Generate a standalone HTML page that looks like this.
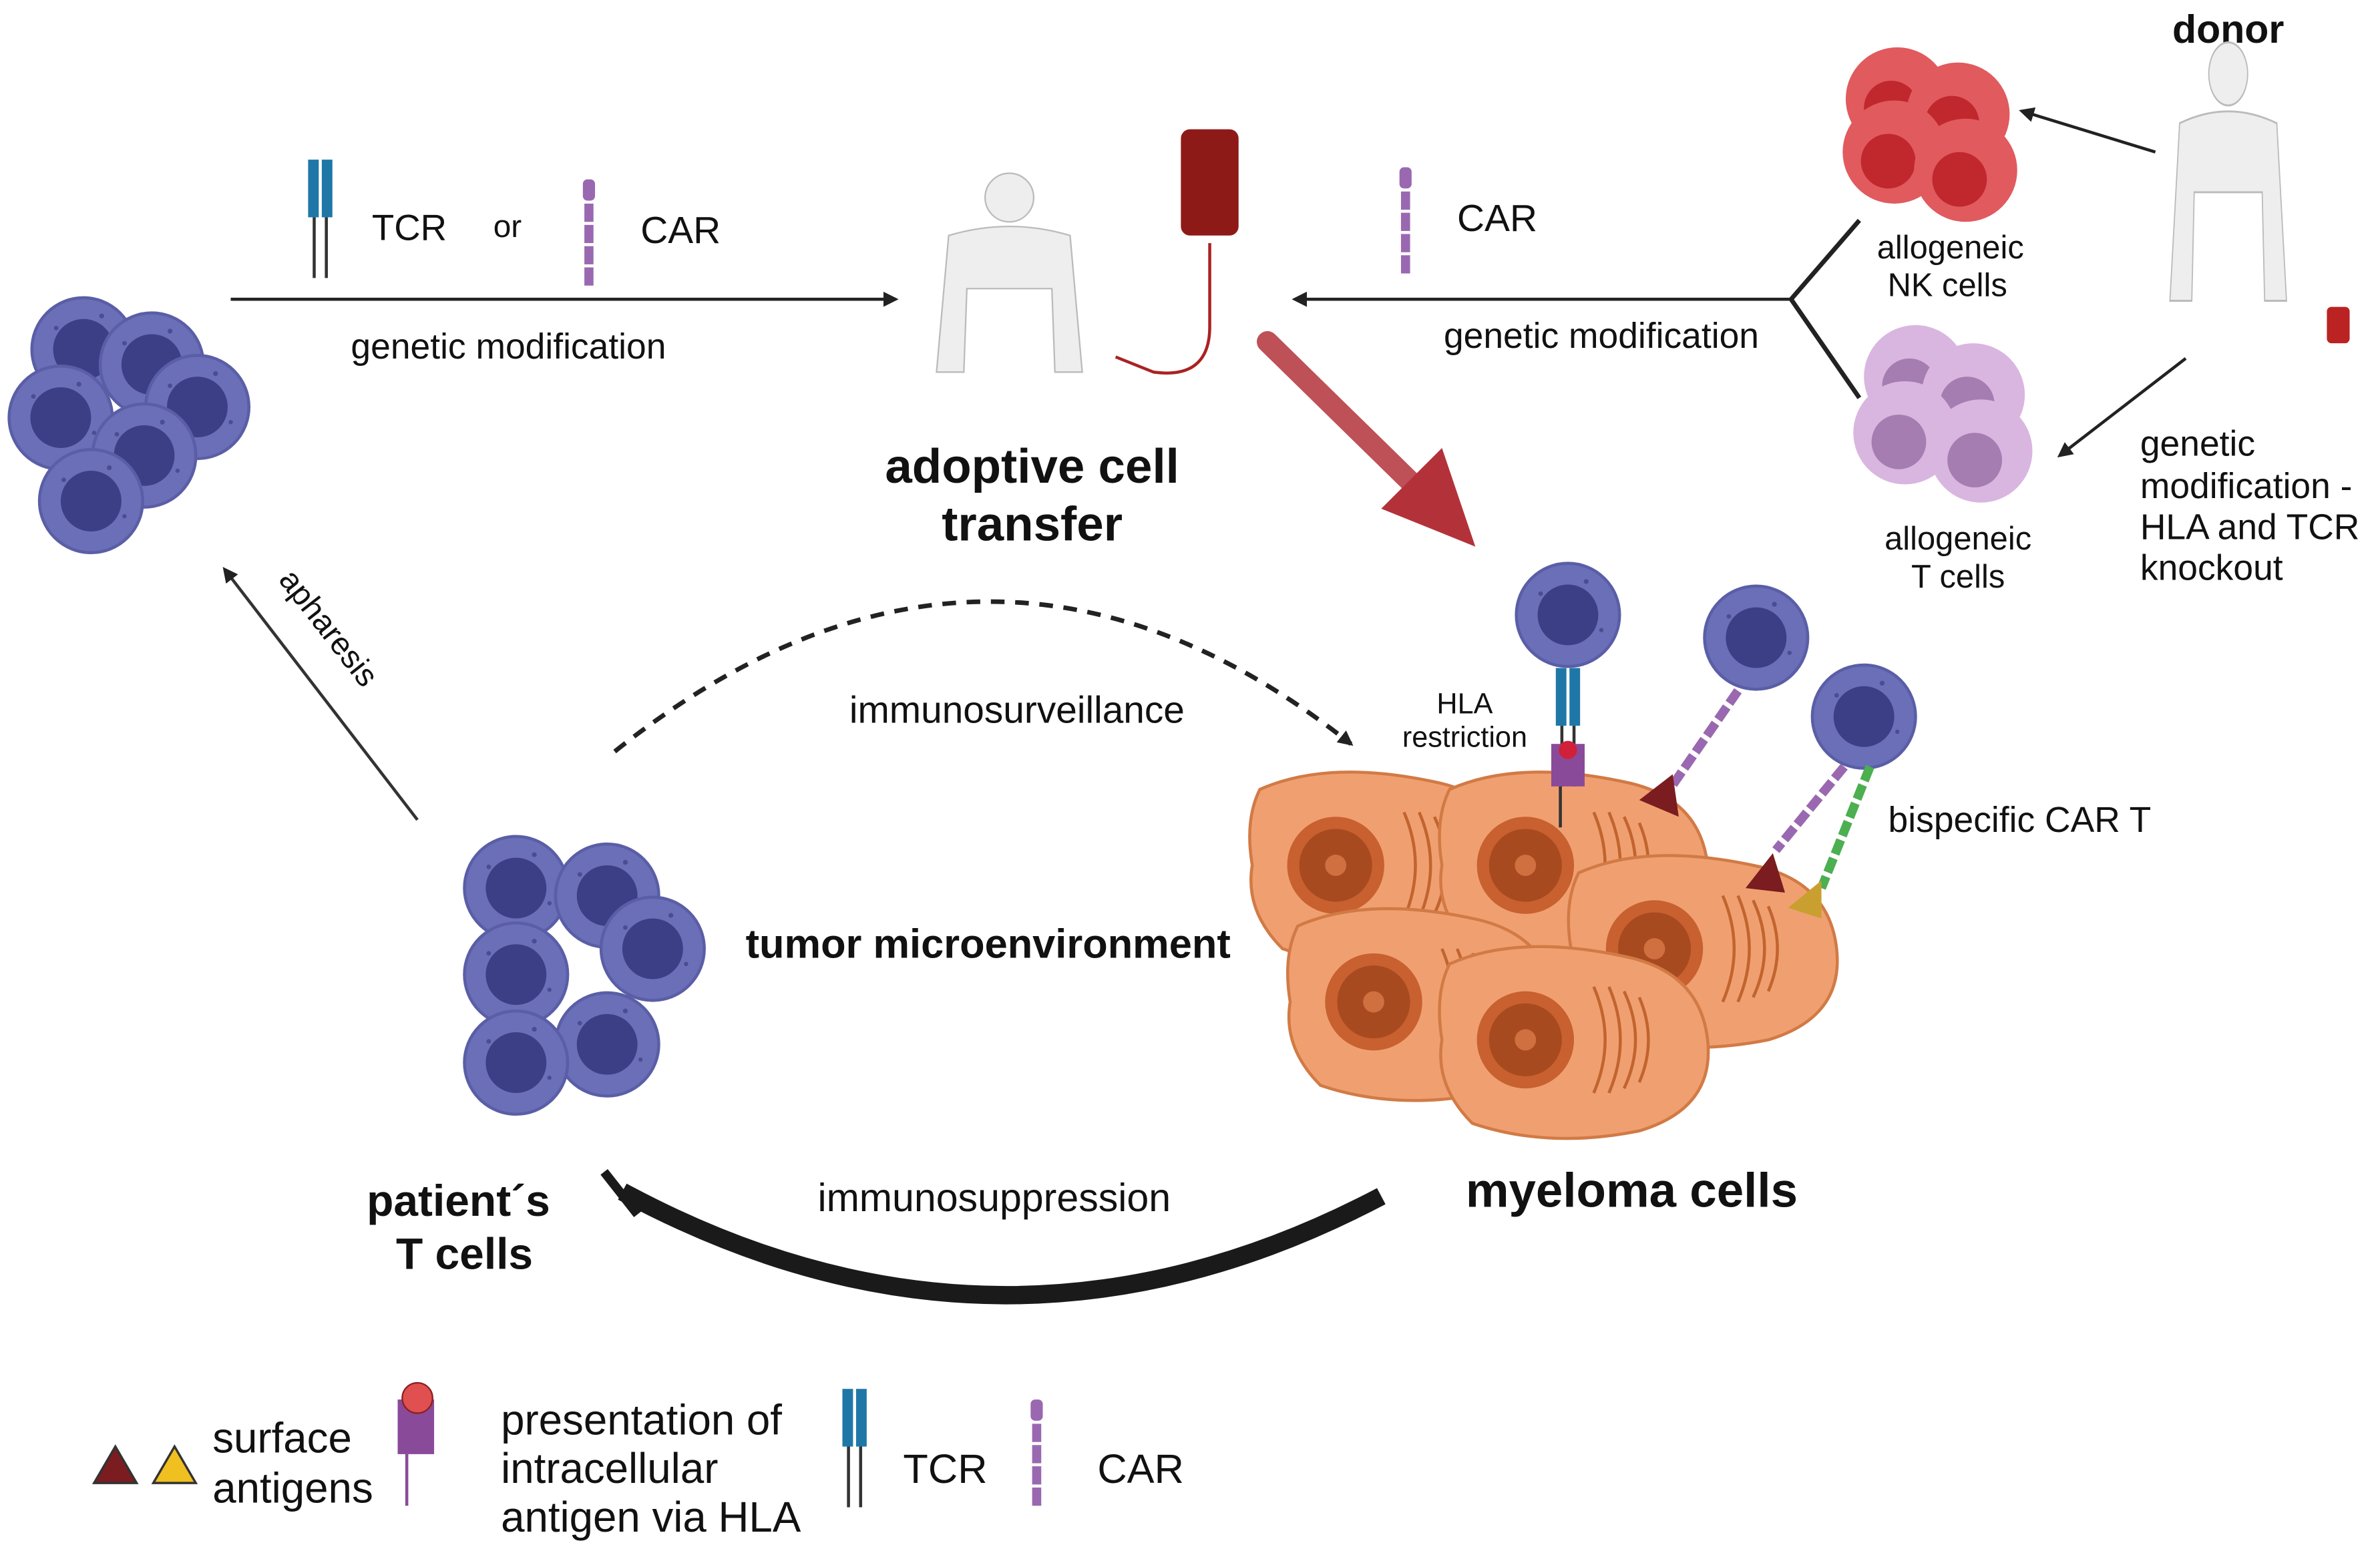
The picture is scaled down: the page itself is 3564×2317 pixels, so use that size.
<!DOCTYPE html>
<html><head><meta charset="utf-8"><style>
html,body{margin:0;padding:0;background:#fff;}
svg{display:block;}
text{font-family:"Liberation Sans",Arial,sans-serif;fill:#111;}
</style></head><body>
<svg width="3564" height="2317" viewBox="0 0 1568 1019" xmlns="http://www.w3.org/2000/svg">
<defs>
<marker id="ah" markerWidth="10" markerHeight="10" refX="8" refY="5" orient="auto" markerUnits="userSpaceOnUse"><path d="M0,0 L10,5 L0,10 z" fill="#222"/></marker>
<g id="bc"><circle r="34" fill="#6b6fb8" stroke="#5a5ea6" stroke-width="2"/><circle r="20" fill="#3c3f85"/><circle cx="12" cy="-22" r="1.6" fill="#4a4d90"/><circle cx="-18" cy="-14" r="1.5" fill="#4a4d90"/><circle cx="22" cy="10" r="1.4" fill="#4a4d90"/></g>
<g id="rc"><circle r="34" fill="#e05a5e"/><circle cx="-4" cy="6" r="18" fill="#c0282e"/></g>
<g id="pc"><circle r="34" fill="#d9b6e0"/><circle cx="-4" cy="6" r="18" fill="#a57db0"/></g>
<g id="mc"><path d="M-85,-50 Q-40,-70 30,-55 Q80,-45 85,0 Q90,45 40,60 Q-20,72 -70,55 Q-95,30 -90,0 Q-95,-30 -85,-50z" fill="#f0a070" stroke="#d27a45" stroke-width="2"/><circle cx="-35" cy="0" r="32" fill="#c8602f"/><circle cx="-35" cy="0" r="24" fill="#a84a20"/><circle cx="-35" cy="0" r="7" fill="#d07040"/><g stroke="#c2642f" stroke-width="2" fill="none"><path d="M10,-35 q15,35 0,70"/><path d="M20,-35 q15,35 0,70"/><path d="M30,-32 q15,32 0,64"/><path d="M40,-28 q12,28 0,56"/></g></g>
<g id="tcr"><rect x="-8" y="0" width="7" height="38" fill="#1f77a8"/><rect x="1" y="0" width="7" height="38" fill="#1f77a8"/><line x1="-4" y1="38" x2="-4" y2="78" stroke="#333" stroke-width="2"/><line x1="4" y1="38" x2="4" y2="78" stroke="#333" stroke-width="2"/></g>
<g id="car"><rect x="-4" y="0" width="8" height="14" rx="3" fill="#9a68b0"/><rect x="-3" y="16" width="6" height="12" fill="#9a68b0"/><rect x="-3" y="30" width="6" height="12" fill="#9a68b0"/><rect x="-3" y="44" width="6" height="12" fill="#9a68b0"/><rect x="-3" y="58" width="6" height="12" fill="#9a68b0"/></g>
<g id="hum"><circle cx="0" cy="-55" r="16" fill="#eee" stroke="#bbb"/><path d="M-40,-30 Q0,-42 40,-30 L48,60 L30,60 L28,5 L-28,5 L-30,60 L-48,60z" fill="#eee" stroke="#bbb"/></g>
</defs>

<use href="#bc" x="55" y="230"/><use href="#bc" x="100" y="240"/><use href="#bc" x="130" y="268"/><use href="#bc" x="40" y="275"/><use href="#bc" x="95" y="300"/><use href="#bc" x="60" y="330"/>

<line x1="152" y1="197" x2="590" y2="197" stroke="#222" stroke-width="2" marker-end="url(#ah)"/>
<text x="335" y="236" font-size="23.5" text-anchor="middle">genetic modification</text>
<use href="#tcr" x="211" y="105"/>
<text x="245" y="158" font-size="24">TCR</text>
<text x="325" y="156" font-size="21">or</text>
<use href="#car" x="388" y="118"/>
<text x="422" y="160" font-size="25">CAR</text>

<g transform="translate(665,185)"><use href="#hum"/></g>
<rect x="778" y="85" width="38" height="70" rx="6" fill="#8e1a18"/>
<path d="M797,160 L797,215 Q797,250 760,245 L735,235" stroke="#a22" stroke-width="2" fill="none"/>

<line x1="1180" y1="197" x2="853" y2="197" stroke="#222" stroke-width="2" marker-end="url(#ah)"/>
<line x1="1180" y1="197" x2="1225" y2="145" stroke="#222" stroke-width="3"/>
<line x1="1180" y1="197" x2="1225" y2="262" stroke="#222" stroke-width="3"/>
<text x="1055" y="229" font-size="23.5" text-anchor="middle">genetic modification</text>
<use href="#car" x="926" y="110"/>
<text x="960" y="152" font-size="25">CAR</text>

<use href="#rc" x="1250" y="65"/><use href="#rc" x="1290" y="75"/><use href="#rc" x="1248" y="100"/><use href="#rc" x="1295" y="112"/>
<text x="1285" y="170" font-size="21.5" text-anchor="middle">allogeneic</text>
<text x="1283" y="195" font-size="21.5" text-anchor="middle">NK cells</text>
<use href="#pc" x="1262" y="248"/><use href="#pc" x="1300" y="260"/><use href="#pc" x="1255" y="285"/><use href="#pc" x="1305" y="297"/>
<text x="1290" y="362" font-size="21.5" text-anchor="middle">allogeneic</text>
<text x="1290" y="387" font-size="21.5" text-anchor="middle">T cells</text>

<text x="1468" y="28" font-size="26" font-weight="bold" text-anchor="middle">donor</text>
<g transform="translate(1468,120) scale(0.8,1.3)"><use href="#hum"/></g>
<rect x="1533" y="202" width="15" height="24" rx="3" fill="#b22"/>
<line x1="1420" y1="100" x2="1332" y2="73" stroke="#222" stroke-width="2" marker-end="url(#ah)"/>
<line x1="1440" y1="236" x2="1357" y2="300" stroke="#222" stroke-width="2" marker-end="url(#ah)"/>
<text x="1410" y="300" font-size="23.5">genetic</text>
<text x="1410" y="328" font-size="23.5">modification -</text>
<text x="1410" y="355" font-size="23.5">HLA and TCR</text>
<text x="1410" y="382" font-size="23.5">knockout</text>

<text x="680" y="318" font-size="32" font-weight="bold" text-anchor="middle">adoptive cell</text>
<text x="680" y="356" font-size="32" font-weight="bold" text-anchor="middle">transfer</text>

<line x1="835" y1="225" x2="930" y2="318" stroke="#b3323a" stroke-width="14" stroke-linecap="round" opacity="0.85"/>
<path d="M972,360 L910,335 L950,295 z" fill="#b3323a"/>

<path d="M405,495 Q650,300 890,490" stroke="#222" stroke-width="3" stroke-dasharray="9,7" fill="none" marker-end="url(#ah)"/>
<text x="670" y="476" font-size="25" text-anchor="middle">immunosurveillance</text>

<line x1="275" y1="540" x2="148" y2="375" stroke="#333" stroke-width="2" marker-end="url(#ah)"/>
<text x="0" y="0" font-size="21" transform="translate(183,382) rotate(52)">apharesis</text>

<use href="#bc" x="340" y="585"/><use href="#bc" x="400" y="590"/><use href="#bc" x="340" y="642"/><use href="#bc" x="430" y="625"/><use href="#bc" x="400" y="688"/><use href="#bc" x="340" y="700"/>
<text x="651" y="631" font-size="27" font-weight="bold" text-anchor="middle">tumor microenvironment</text>
<text x="302" y="801" font-size="29" font-weight="bold" text-anchor="middle">patient´s</text>
<text x="306" y="836" font-size="29" font-weight="bold" text-anchor="middle">T cells</text>

<use href="#mc" x="915" y="570"/><use href="#mc" x="1040" y="570"/><use href="#mc" x="1125" y="625"/><use href="#mc" x="940" y="660"/><use href="#mc" x="1040" y="685"/>

<use href="#bc" x="1033" y="405"/><use href="#bc" x="1157" y="420"/><use href="#bc" x="1228" y="472"/>
<use href="#tcr" x="1033" y="440"/>
<rect x="1022" y="490" width="22" height="28" fill="#8a4a9a"/><circle cx="1033" cy="494" r="6" fill="#d0203a"/>
<line x1="1028" y1="518" x2="1028" y2="545" stroke="#333" stroke-width="2"/>
<line x1="1145" y1="455" x2="1100" y2="520" stroke="#9a68b0" stroke-width="6" stroke-dasharray="10,3"/>
<path d="M1080,527 L1102,510 L1106,538z" fill="#7a1c20"/>
<line x1="1215" y1="505" x2="1170" y2="560" stroke="#9a68b0" stroke-width="6" stroke-dasharray="10,3"/>
<line x1="1232" y1="505" x2="1200" y2="585" stroke="#4caf50" stroke-width="6" stroke-dasharray="10,3"/>
<path d="M1150,585 L1168,562 L1176,588z" fill="#7a1c20"/>
<path d="M1178,598 L1200,580 L1200,605z" fill="#c9a030"/>
<text x="965" y="470" font-size="19" text-anchor="middle">HLA</text>
<text x="965" y="492" font-size="19" text-anchor="middle">restriction</text>
<text x="1244" y="548" font-size="23.5">bispecific CAR T</text>
<text x="1075" y="795" font-size="32" font-weight="bold" text-anchor="middle">myeloma cells</text>

<path d="M910,788 Q660,920 410,785" stroke="#1a1a1a" stroke-width="12" fill="none"/>
<line x1="398" y1="772" x2="420" y2="800" stroke="#1a1a1a" stroke-width="6"/>
<text x="655" y="798" font-size="26" text-anchor="middle">immunosuppression</text>

<path d="M62,977 L76,953 L90,977z" fill="#7a1c20" stroke="#333" stroke-width="1.5"/>
<path d="M101,977 L115,953 L129,977z" fill="#f0c020" stroke="#333" stroke-width="1.5"/>
<text x="140" y="957" font-size="28">surface</text>
<text x="140" y="990" font-size="28">antigens</text>
<rect x="262" y="922" width="24" height="36" fill="#8a4a9a"/><circle cx="275" cy="921" r="10" fill="#e05050" stroke="#8a2020"/>
<line x1="268" y1="958" x2="268" y2="992" stroke="#8a4a9a" stroke-width="2"/>
<text x="330" y="945" font-size="28">presentation of</text>
<text x="330" y="977" font-size="28">intracellular</text>
<text x="330" y="1009" font-size="28">antigen via HLA</text>
<use href="#tcr" x="563" y="915"/>
<text x="595" y="977" font-size="27">TCR</text>
<use href="#car" x="683" y="922"/>
<text x="723" y="977" font-size="27">CAR</text>
</svg>
</body></html>
